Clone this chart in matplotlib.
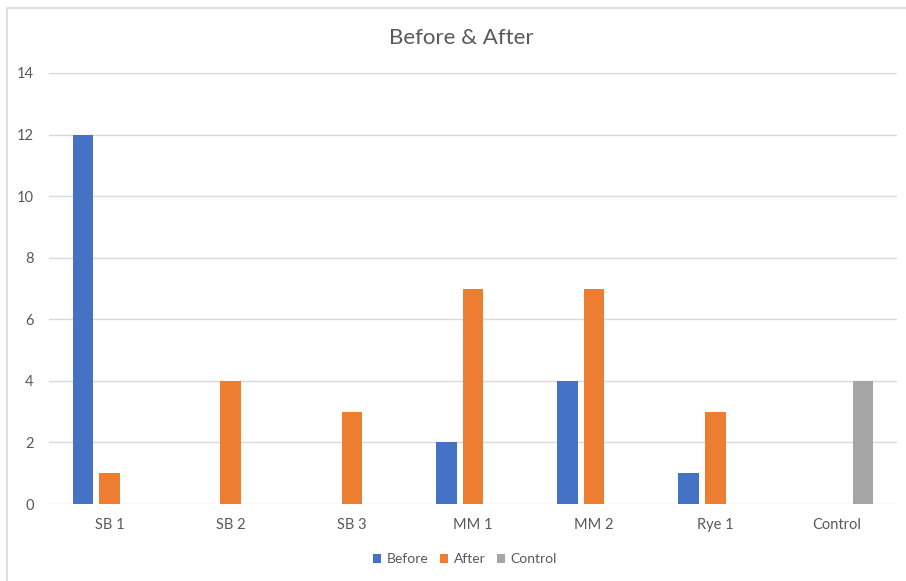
import matplotlib
matplotlib.use("Agg")
import matplotlib.pyplot as plt
import numpy as np
from matplotlib.patches import Rectangle

categories = ["SB 1", "SB 2", "SB 3", "MM 1", "MM 2", "Rye 1", "Control"]
before = [12, 0, 0, 2, 4, 1, 0]
after = [1, 4, 3, 7, 7, 3, 0]
control = [0, 0, 0, 0, 0, 0, 4]
y_ticks = [0, 2, 4, 6, 8, 10, 12, 14]

plt.rcParams["font.family"] = ["Lato", "DejaVu Sans"]

W, H = 906, 581
fig = plt.figure(figsize=(W / 100, H / 100), dpi=100)

# chart area frame
fig.patches.append(Rectangle((7 / W, -0.1), 1.2, (H - 7.5) / H + 0.1,
                             transform=fig.transFigure, fill=False,
                             edgecolor="#D9D9D9", linewidth=1.2))

ax = fig.add_axes([49 / W, (H - 504) / H, (897 - 49) / W, (504 - 73) / H])

x = np.arange(len(categories))
spacing = 0.22
width = 0.17
series = [("Before", before, "#4472C4"),
          ("After", after, "#ED7D31"),
          ("Control", control, "#A5A5A5")]
for i, (name, vals, col) in enumerate(series):
    ax.bar(x + (i - 1) * spacing, vals, width, color=col, label=name, zorder=3)

ax.set_xlim(-0.5, len(categories) - 0.5)
ax.set_ylim(0, 14)
ax.set_yticks(y_ticks)
ax.set_xticks(x)
ax.set_xticklabels(categories)
ax.grid(axis="y", color="#D9D9D9", linewidth=1.0, zorder=0)
for s in ax.spines.values():
    s.set_visible(False)
ax.tick_params(axis="both", length=0, labelsize=10.5, labelcolor="#595959")
ax.tick_params(axis="x", pad=10)
ax.tick_params(axis="y", pad=11)

fig.text(461 / W, 1 - 38 / H, "Before & After", ha="center", va="center",
         fontsize=16, color="#595959")

handles, labels = ax.get_legend_handles_labels()
fig.legend(handles, labels, loc="center", bbox_to_anchor=(465 / W, 1 - 559 / H),
           ncol=3, frameon=False, fontsize=10, labelcolor="#595959",
           handlelength=0.6, handleheight=0.6, handletextpad=0.4, columnspacing=0.8)

fig.savefig("out.png", dpi=100)
